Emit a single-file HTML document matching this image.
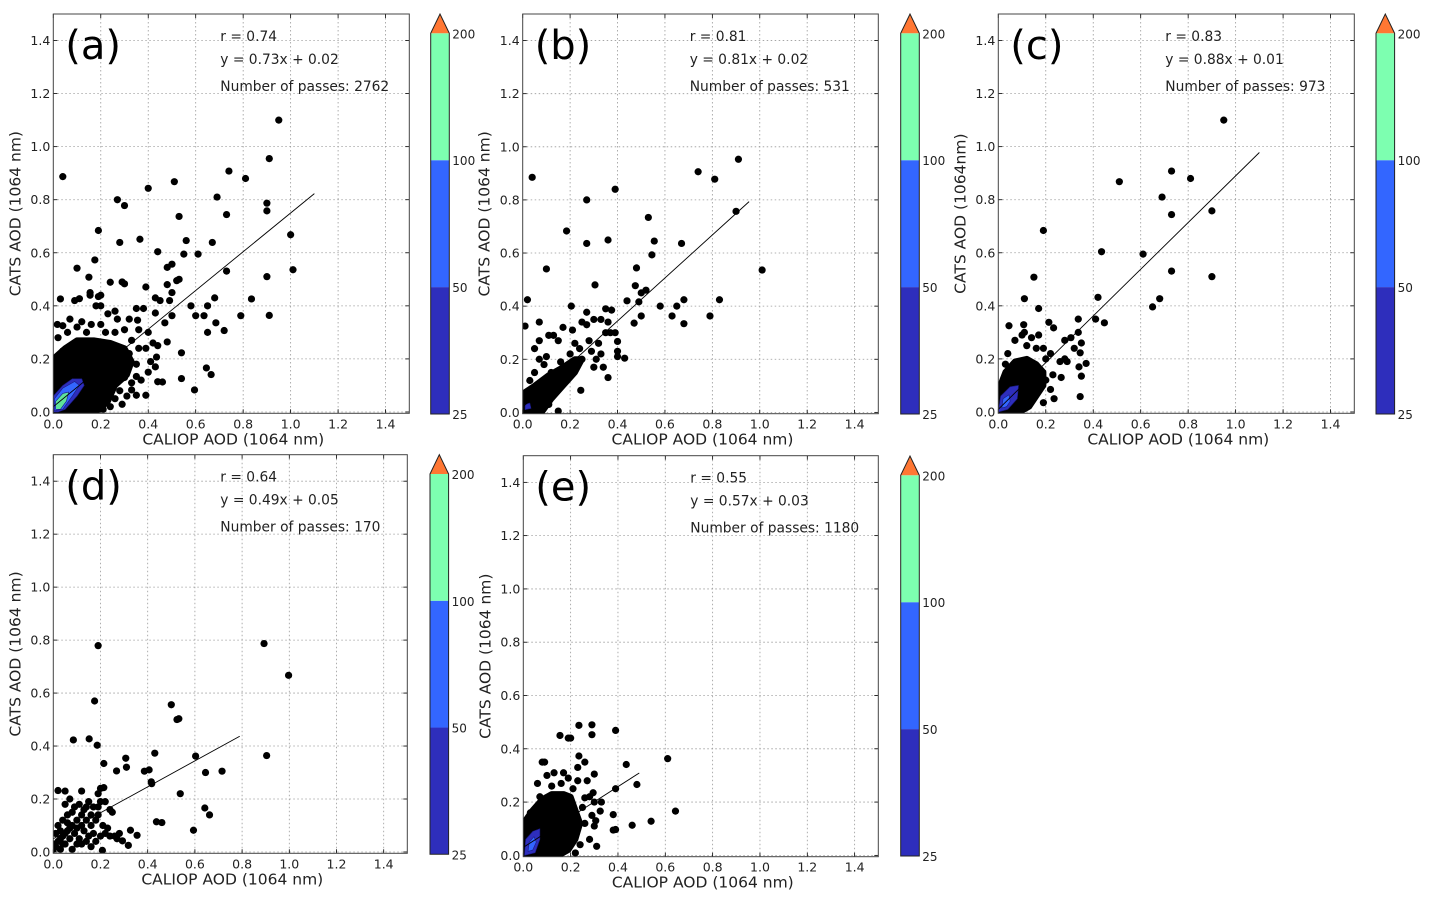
<!DOCTYPE html>
<html><head><meta charset="utf-8">
<style>
html,body{margin:0;padding:0;background:#fff;}
svg{display:block;font-family:"DejaVu Sans","Liberation Sans",sans-serif;}
</style></head>
<body>
<svg id="fig" width="1433" height="901" viewBox="0 0 1433 901"><defs id="defs"></defs></svg>
<script>
// ---------- DATA ----------
const tickVals = [0.0,0.2,0.4,0.6,0.8,1.0,1.2,1.4];
const tickLabels = ["0.0","0.2","0.4","0.6","0.8","1.0","1.2","1.4"];
const cbarLabels = ["25","50","100","200"];
const panelLetters = ["(a)","(b)","(c)","(d)","(e)"];
const rValues = ["0.74","0.81","0.83","0.64","0.55"];
const slopes = [0.73,0.81,0.88,0.49,0.57];
const intercepts = [0.02,0.02,0.01,0.05,0.03];
const fitEnds = [1.1,0.955,1.1,0.79,0.49];
const fitStarts = [0.0,0.0,0.0,0.0,0.0];
const passes = ["2762","531","973","170","1180"];
const yTitles = ["CATS AOD (1064 nm)","CATS AOD (1064 nm)","CATS AOD (1064nm)","CATS AOD (1064 nm)","CATS AOD (1064 nm)"];

const pointsA = [[0.04,0.887],[0.95,1.10],[0.91,0.955],[0.74,0.908],[0.81,0.88],[0.51,0.868],[0.40,0.843],[0.69,0.81],[0.27,0.80],[0.30,0.778],[0.90,0.787],[0.90,0.758],[0.73,0.744],[0.53,0.737],[0.19,0.684],[1.0,0.668],[0.365,0.651],[0.28,0.639],[0.56,0.646],[0.67,0.639],[0.44,0.604],[0.55,0.595],[0.61,0.595],[0.175,0.573],[0.10,0.542],[1.01,0.536],[0.73,0.531],[0.90,0.51],[0.15,0.508],[0.48,0.545],[0.50,0.557],[0.53,0.50],[0.52,0.495],[0.24,0.489],[0.30,0.483],[0.29,0.49],[0.39,0.471],[0.48,0.48],[0.50,0.45],[0.03,0.426],[0.155,0.44],[0.155,0.45],[0.11,0.427],[0.09,0.42],[0.2,0.44],[0.19,0.435],[0.43,0.43],[0.45,0.42],[0.49,0.42],[0.58,0.40],[0.65,0.40],[0.68,0.43],[0.835,0.426],[0.35,0.39],[0.38,0.39],[0.18,0.40],[0.2,0.40],[0.43,0.373],[0.50,0.363],[0.60,0.363],[0.635,0.363],[0.79,0.363],[0.91,0.364],[0.65,0.30],[0.685,0.336],[0.72,0.307],[0.47,0.336],[0.355,0.346],[0.48,0.264],[0.435,0.207],[0.54,0.223],[0.645,0.166],[0.665,0.141],[0.54,0.126],[0.595,0.083],[0.44,0.114],[0.46,0.113],[0.35,0.134],[0.33,0.083],[0.35,0.063],[0.39,0.063],[0.29,0.029],[0.21,0.01],[0.017,0.33],[0.04,0.325],[0.23,0.37],[0.26,0.38],[0.32,0.35],[0.30,0.31],[0.36,0.31],[0.40,0.30],[0.42,0.26],[0.41,0.19],[0.40,0.15],[0.37,0.12],[0.33,0.11],[0.31,0.06],[0.26,0.05],[0.24,0.02],[0.07,0.35],[0.12,0.34],[0.16,0.33],[0.2,0.33],[0.27,0.35],[0.39,0.24],[0.44,0.25],[0.43,0.17],[0.06,0.3],[0.1,0.32],[0.14,0.3],[0.22,0.3],[0.26,0.3],[0.33,0.27],[0.36,0.24],[0.35,0.18],[0.3,0.13],[0.28,0.08],[0.32,0.22],[0.02,0.28],[0.04,0.23]];
const blobA = [[0,0],[0,0.2],[0.05,0.24],[0.1,0.27],[0.17,0.27],[0.24,0.26],[0.3,0.24],[0.33,0.19],[0.31,0.14],[0.26,0.1],[0.23,0.04],[0.18,0.0]];
const contourA25 = [[0,0],[0,0.06],[0.04,0.1],[0.08,0.125],[0.12,0.125],[0.13,0.1],[0.1,0.06],[0.05,0.01],[0.02,0]];
const contourA50 = [[0.005,0.005],[0.005,0.05],[0.04,0.09],[0.09,0.115],[0.11,0.1],[0.08,0.06],[0.04,0.01]];
const contourA100 = [[0.01,0.01],[0.01,0.04],[0.04,0.07],[0.065,0.075],[0.055,0.04],[0.03,0.01]];

const pointsB = [[0.04,0.885],[0.91,0.953],[0.74,0.906],[0.81,0.878],[0.39,0.84],[0.27,0.80],[0.90,0.757],[0.53,0.734],[0.185,0.683],[0.36,0.649],[0.555,0.645],[0.27,0.636],[0.67,0.636],[0.545,0.593],[0.10,0.54],[1.01,0.536],[0.48,0.544],[0.305,0.48],[0.475,0.477],[0.50,0.45],[0.52,0.46],[0.02,0.424],[0.205,0.40],[0.44,0.42],[0.49,0.416],[0.58,0.40],[0.65,0.40],[0.68,0.424],[0.83,0.424],[0.35,0.39],[0.375,0.385],[0.63,0.363],[0.50,0.363],[0.79,0.363],[0.47,0.336],[0.68,0.334],[0.27,0.377],[0.01,0.325],[0.07,0.34],[0.40,0.267],[0.43,0.204],[0.40,0.21],[0.40,0.23],[0.36,0.131],[0.34,0.17],[0.245,0.083],[0.15,0.005],[0.30,0.17],[0.31,0.2],[0.10,0.21],[0.07,0.2],[0.05,0.24],[0.07,0.27],[0.11,0.29],[0.13,0.29],[0.17,0.32],[0.15,0.27],[0.21,0.31],[0.22,0.26],[0.25,0.34],[0.27,0.33],[0.30,0.35],[0.33,0.35],[0.36,0.34],[0.37,0.3],[0.39,0.3],[0.35,0.3],[0.32,0.26],[0.29,0.23],[0.33,0.22],[0.25,0.2],[0.22,0.17],[0.19,0.13],[0.14,0.1],[0.09,0.06],[0.11,0.03],[0.06,0.02],[0.12,0.15],[0.16,0.19],[0.2,0.22],[0.24,0.24],[0.28,0.27],[0.05,0.15],[0.09,0.18],[0.03,0.12]];
const blobB = [[0,0],[0,0.07],[0.05,0.1],[0.11,0.14],[0.17,0.17],[0.22,0.2],[0.25,0.2],[0.22,0.15],[0.17,0.1],[0.12,0.05],[0.08,0.0]];
const contourB25 = [[0.01,0.01],[0.01,0.03],[0.03,0.035],[0.035,0.015]];

const pointsC = [[0.95,1.10],[0.73,0.908],[0.81,0.88],[0.51,0.868],[0.69,0.81],[0.90,0.758],[0.73,0.744],[0.19,0.684],[0.435,0.604],[0.61,0.595],[0.73,0.531],[0.15,0.508],[0.90,0.51],[0.42,0.432],[0.68,0.427],[0.65,0.396],[0.11,0.427],[0.17,0.39],[0.41,0.35],[0.447,0.336],[0.337,0.35],[0.337,0.30],[0.045,0.325],[0.107,0.329],[0.213,0.338],[0.233,0.317],[0.35,0.26],[0.345,0.223],[0.37,0.183],[0.34,0.17],[0.35,0.135],[0.345,0.058],[0.265,0.13],[0.29,0.19],[0.28,0.2],[0.22,0.085],[0.235,0.05],[0.19,0.035],[0.28,0.27],[0.306,0.28],[0.32,0.24],[0.26,0.19],[0.23,0.14],[0.2,0.12],[0.1,0.29],[0.11,0.3],[0.14,0.28],[0.17,0.29],[0.07,0.27],[0.03,0.18],[0.19,0.24],[0.2,0.2],[0.12,0.25],[0.16,0.24],[0.22,0.22],[0.04,0.22]];
const blobC = [[0,0],[0,0.08],[0.03,0.15],[0.07,0.19],[0.12,0.2],[0.16,0.18],[0.19,0.15],[0.19,0.1],[0.16,0.06],[0.13,0.02],[0.09,0.0]];
const contourC25 = [[0,0],[0.01,0.06],[0.05,0.095],[0.085,0.1],[0.08,0.05],[0.04,0.01]];
const contourC50 = [[0.015,0.015],[0.02,0.05],[0.045,0.065],[0.05,0.04],[0.035,0.02]];

const pointsD = [[0.19,0.779],[0.893,0.787],[0.997,0.667],[0.175,0.57],[0.50,0.556],[0.524,0.50],[0.532,0.503],[0.085,0.423],[0.152,0.427],[0.186,0.403],[0.904,0.364],[0.43,0.373],[0.603,0.362],[0.307,0.354],[0.31,0.32],[0.214,0.334],[0.268,0.306],[0.386,0.305],[0.406,0.31],[0.645,0.30],[0.715,0.305],[0.415,0.265],[0.417,0.258],[0.538,0.22],[0.214,0.243],[0.02,0.232],[0.05,0.23],[0.642,0.166],[0.662,0.14],[0.437,0.114],[0.46,0.111],[0.594,0.082],[0.327,0.082],[0.355,0.063],[0.293,0.042],[0.318,0.025],[0.208,0.006],[0.05,0.18],[0.07,0.2],[0.09,0.17],[0.12,0.23],[0.13,0.16],[0.15,0.19],[0.17,0.17],[0.19,0.14],[0.2,0.19],[0.22,0.19],[0.24,0.16],[0.25,0.15],[0.21,0.1],[0.23,0.09],[0.18,0.12],[0.16,0.1],[0.14,0.12],[0.12,0.1],[0.1,0.12],[0.08,0.1],[0.06,0.08],[0.04,0.06],[0.02,0.04],[0.01,0.02],[0.03,0.01],[0.05,0.03],[0.07,0.05],[0.09,0.07],[0.11,0.05],[0.13,0.08],[0.1,0.03],[0.08,0.01],[0.15,0.06],[0.17,0.07],[0.2,0.06],[0.22,0.07],[0.24,0.06],[0.27,0.05],[0.12,0.14],[0.06,0.14],[0.08,0.15],[0.04,0.12],[0.03,0.08],[0.01,0.07],[0.02,0.1],[0.0,0.03],[0.0,0.01],[0.04,0.03],[0.06,0.11],[0.1,0.09],[0.19,0.22],[0.2,0.24],[0.14,0.17],[0.11,0.18],[0.16,0.14],[0.19,0.17],[0.12,0.03],[0.18,0.04],[0.14,0.04],[0.26,0.06],[0.28,0.07],[0.16,0.02],[0.03,0.05],[0.05,0.07],[0.07,0.09]];

const pointsE = [[0.61,0.363],[0.643,0.166],[0.54,0.128],[0.46,0.113],[0.48,0.266],[0.435,0.341],[0.39,0.469],[0.29,0.49],[0.235,0.488],[0.29,0.453],[0.155,0.45],[0.19,0.44],[0.20,0.44],[0.08,0.35],[0.39,0.25],[0.33,0.20],[0.325,0.166],[0.38,0.153],[0.306,0.13],[0.38,0.095],[0.39,0.097],[0.31,0.034],[0.22,0.009],[0.30,0.305],[0.26,0.35],[0.235,0.373],[0.295,0.235],[0.26,0.216],[0.09,0.35],[0.1,0.3],[0.13,0.31],[0.17,0.31],[0.19,0.29],[0.23,0.33],[0.27,0.28],[0.28,0.22],[0.3,0.2],[0.29,0.15],[0.3,0.11],[0.28,0.06],[0.24,0.04],[0.03,0.16],[0.06,0.27],[0.23,0.28],[0.07,0.22],[0.12,0.26],[0.16,0.27],[0.21,0.25],[0.25,0.18],[0.26,0.12]];
const blobE = [[0,0],[0,0.12],[0.04,0.17],[0.08,0.21],[0.12,0.23],[0.17,0.23],[0.2,0.22],[0.22,0.17],[0.24,0.12],[0.22,0.06],[0.19,0.02],[0.15,0.0]];
const contourE25 = [[0.005,0.0],[0.01,0.06],[0.04,0.09],[0.07,0.1],[0.07,0.06],[0.05,0.01]];
const contourE50 = [[0.02,0.015],[0.025,0.05],[0.045,0.07],[0.055,0.05],[0.04,0.02]];

// ---------- LAYOUT ----------
const panels = [
 {L:53.3,T:14,R:409.3,B:413.3,cx:430.7,apex:14,c200:33.3,cb:414, pts:pointsA, blob:blobA, cont:[contourA25,contourA50,contourA100]},
 {L:522.7,T:14,R:878.3,B:413.7,cx:900.7,apex:14,c200:33.3,cb:414, pts:pointsB, blob:blobB, cont:[contourB25]},
 {L:998.3,T:14,R:1354.3,B:413.3,cx:1376,apex:14,c200:33.3,cb:414, pts:pointsC, blob:blobC, cont:[contourC25,contourC50]},
 {L:53.3,T:454.7,R:407.3,B:853.3,cx:430,apex:454.7,c200:474,cb:854.3, pts:pointsD, blob:null, cont:[]},
 {L:523.3,T:455.7,R:878.3,B:856.7,cx:900.7,apex:456,c200:475.3,cb:856, pts:pointsE, blob:blobE, cont:[contourE25,contourE50]}
];
const contColors = ["#2e2ebc","#3366ff","#5fe39a"];
const NS = "http://www.w3.org/2000/svg";
const svg = document.getElementById('fig');
const defs = document.getElementById('defs');
function mk(tag, attrs, parent){const e=document.createElementNS(NS,tag);for(const k in attrs)e.setAttribute(k,attrs[k]);(parent||svg).appendChild(e);return e;}

panels.forEach((p,i)=>{
  const g = mk('g',{});
  
  
  const cp = mk('clipPath',{id:'clip'+i},defs);
  mk('rect',{x:p.L,y:p.T,width:p.R-p.L,height:p.B-p.T},cp);
  const xmin=0.0, xmax=1.5, ymin=-0.005, ymax=1.5;
  const sx = v => p.L + (v-xmin)/(xmax-xmin)*(p.R-p.L);
  const sy = v => p.B - (v-ymin)/(ymax-ymin)*(p.B-p.T);
  tickVals.forEach((t,k)=>{
    if(k>0){
      const gx = mk('line',{x1:sx(t),x2:sx(t),y1:p.T,y2:p.B,stroke:'#999','stroke-width':0.8,'stroke-dasharray':'1.5,2.5'},g);
       
    }
    const gy = mk('line',{x1:p.L,x2:p.R,y1:sy(t),y2:sy(t),stroke:'#999','stroke-width':0.8,'stroke-dasharray':'1.5,2.5'},g);
     
    [[sx(t),p.B,sx(t),p.B-4],[sx(t),p.T,sx(t),p.T+4],[p.L,sy(t),p.L+4,sy(t)],[p.R,sy(t),p.R-4,sy(t)]].forEach(c=>{
      mk('line',{x1:c[0],y1:c[1],x2:c[2],y2:c[3],stroke:'#000','stroke-width':0.8},g);
    });
    const xl = mk('text',{x:sx(t),y:p.B+15,'text-anchor':'middle','font-size':12.5,fill:'#222'},g);
    xl.textContent = tickLabels[k];
     
    const yl = mk('text',{x:p.L-3,y:sy(t)+4.5,'text-anchor':'end','font-size':12.5,fill:'#222'},g);
    yl.textContent = tickLabels[k];
     
  });
  const dg = mk('g',{'clip-path':'url(#clip'+i+')'},g);
   
  if(p.blob){
    const b = mk('polygon',{points:p.blob.map(q=>sx(q[0])+','+sy(q[1])).join(' '),fill:'#000',stroke:'#000','stroke-width':6,'stroke-linejoin':'round'},dg);
     
  }
  p.pts.forEach(q=>{
    const c = mk('circle',{cx:sx(q[0]),cy:sy(q[1]),r:3.6,fill:'#000'},dg);
     
  });
  p.cont.forEach((poly,k)=>{
    const c = mk('polygon',{points:poly.map(q=>sx(q[0])+','+sy(q[1])).join(' '),fill:contColors[k],stroke:'#1a1a80','stroke-width':0.6,'stroke-linejoin':'round'},dg);
     
  });
  const fl = mk('line',{x1:sx(fitStarts[i]),y1:sy(slopes[i]*fitStarts[i]+intercepts[i]),x2:sx(fitEnds[i]),y2:sy(slopes[i]*fitEnds[i]+intercepts[i]),stroke:'#000','stroke-width':0.9},dg);
   
  const fr = mk('rect',{x:p.L,y:p.T,width:p.R-p.L,height:p.B-p.T,fill:'none',stroke:'#444','stroke-width':1},g);
   
  const xt = mk('text',{x:(p.L+p.R)/2+2,y:p.B+31,'text-anchor':'middle','font-size':15.5,fill:'#222'},g);
  xt.textContent='CALIOP AOD (1064 nm)';
   
  const ycx = p.L-33, ycy=(p.T+p.B)/2;
  const yt = mk('text',{x:ycx,y:ycy,'text-anchor':'middle','font-size':15.5,fill:'#222',transform:'rotate(-90 '+ycx+' '+ycy+')'},g);
  yt.textContent=yTitles[i];
   
  const pl = mk('text',{x:p.L+12,y:p.T+45,'font-size':40,fill:'#000','font-family':'"DejaVu Sans",sans-serif'},g);
  pl.textContent=panelLetters[i];
   
  const ann = [ 'r = '+rValues[i], 'y = '+slopes[i].toFixed(2)+'x + '+intercepts[i].toFixed(2), 'Number of passes: '+passes[i] ];
  const annY=[27,50,77];
  ann.forEach((s,k)=>{
    const t = mk('text',{x:p.L+167,y:p.T+annY[k],'font-size':13.8,fill:'#222'},g);
    t.textContent=s;
     
  });
  const cw=18.6, seg=(p.cb-p.c200)/3;
  const cg = mk('g',{},g);
   
  const segCols=["#2e2ebc","#3366ff","#7dffb0"];
  segCols.forEach((col,k)=>{
    mk('rect',{x:p.cx,y:p.cb-seg*(k+1),width:cw,height:seg,fill:col},cg);
  });
  mk('polygon',{points:`${p.cx},${p.c200} ${p.cx+cw/2},${p.apex} ${p.cx+cw},${p.c200}`,fill:'#ff7733'},cg);
  mk('polygon',{points:`${p.cx},${p.cb} ${p.cx},${p.c200} ${p.cx+cw/2},${p.apex} ${p.cx+cw},${p.c200} ${p.cx+cw},${p.cb}`,fill:'none',stroke:'#222','stroke-width':1},cg);
  cbarLabels.forEach((s,k)=>{
    const t = mk('text',{x:p.cx+cw+3,y:p.cb-seg*k+5,'font-size':12,fill:'#222'},cg);
    t.textContent=s;
     
  });
});
</script>
</body></html>
